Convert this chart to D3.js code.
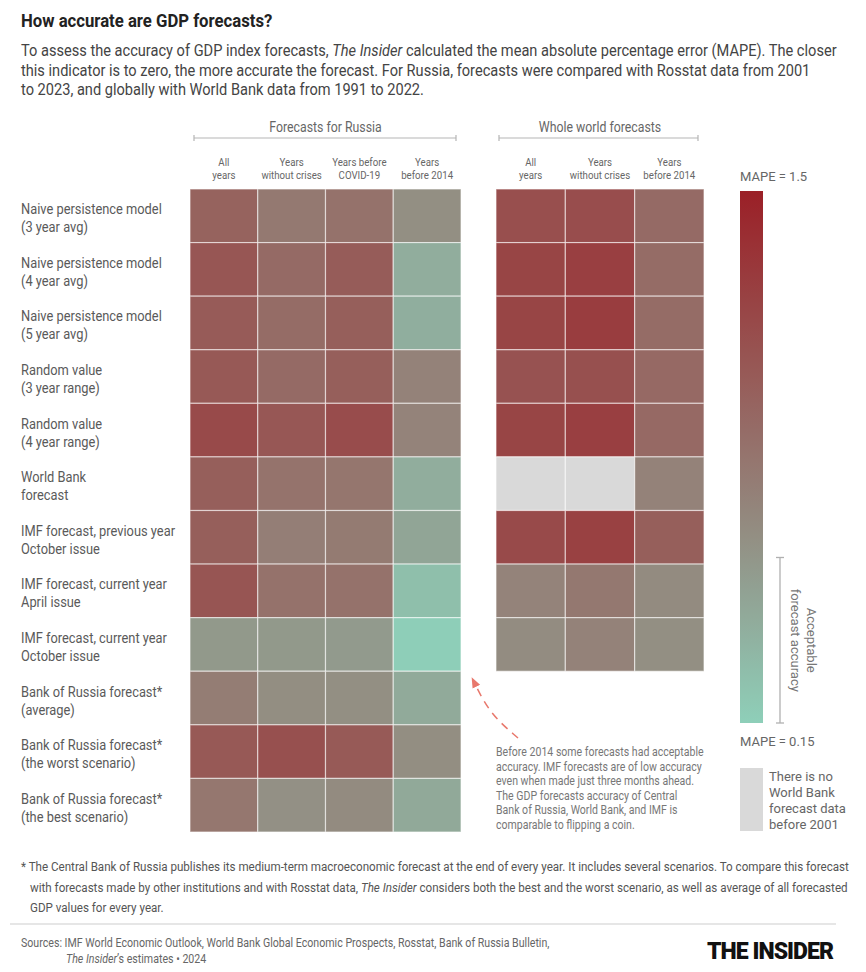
<!DOCTYPE html>
<html><head><meta charset="utf-8">
<script src="https://cdn.jsdelivr.net/npm/d3@7/dist/d3.min.js"></script>
<style>html,body{margin:0;padding:0;background:#fff}svg{display:block;font-family:Roboto,"Noto Sans",sans-serif}</style>
</head><body>
<svg id="c" width="866" height="972"></svg>
<script>
// ---------- DATA ----------
const rowLabels = [
  ["Naive persistence model","(3 year avg)"],
  ["Naive persistence model","(4 year avg)"],
  ["Naive persistence model","(5 year avg)"],
  ["Random value","(3 year range)"],
  ["Random value","(4 year range)"],
  ["World Bank","forecast"],
  ["IMF forecast, previous year","October issue"],
  ["IMF forecast, current year","April issue"],
  ["IMF forecast, current year","October issue"],
  ["Bank of Russia forecast*","(average)"],
  ["Bank of Russia forecast*","(the worst scenario)"],
  ["Bank of Russia forecast*","(the best scenario)"]
];
const russiaCols = [["All","years"],["Years","without crises"],["Years before","COVID-19"],["Years","before 2014"]];
const worldCols = [["All","years"],["Years","without crises"],["Years","before 2014"]];
// MAPE values, Russia (rows x 4 columns)
const russiaValues = [
  [0.97, 0.79, 0.85, 0.62],
  [1.07, 0.91, 1.02, 0.40],
  [1.03, 0.90, 1.00, 0.39],
  [1.05, 0.91, 1.00, 0.72],
  [1.17, 1.06, 1.15, 0.71],
  [1.00, 0.84, 0.82, 0.40],
  [1.00, 0.75, 0.78, 0.46],
  [1.08, 0.85, 0.85, 0.27],
  [0.55, 0.55, 0.54, 0.16],
  [0.76, 0.63, 0.62, 0.42],
  [1.05, 1.12, 1.04, 0.63],
  [0.81, 0.61, 0.65, 0.43]
];
// MAPE values, whole world (first 9 rows x 3 columns); null = no data
const worldValues = [
  [1.13, 1.14, 0.91],
  [1.21, 1.25, 0.90],
  [1.21, 1.27, 0.90],
  [1.10, 1.12, 0.92],
  [1.21, 1.25, 0.92],
  [null, null, 0.72],
  [1.17, 1.24, 1.00],
  [0.71, 0.80, 0.65],
  [0.64, 0.72, 0.62]
];
const mapeMin = 0.15, mapeMax = 1.5, acceptableMax = 0.57;

// ---------- HELPERS ----------
const svg = d3.select("#c");
const COND = 0.88;
function T(x, y, parts, o = {}) {
  const c = o.c ?? COND;
  const t = svg.append("text")
    .attr("transform", `translate(${x},${y}) scale(${c},1)`)
    .attr("font-size", o.size || 13)
    .attr("font-weight", o.w || 400)
    .attr("fill", o.fill || "#555")
    .attr("text-anchor", o.a || "start");
  if (typeof parts === "string") parts = [[parts, false]];
  parts.forEach(([s, it]) => t.append("tspan").attr("font-style", it ? "italic" : "normal").text(s));
  return t;
}

// ---------- HEADER ----------
T(21, 27, "How accurate are GDP forecasts?", {size: 19, w: 700, fill: "#222"});
const subFill = "#444";
T(21, 56, [["To assess the accuracy of GDP index forecasts, ", false], ["The Insider", true], [" calculated the mean absolute percentage error (MAPE). The closer", false]], {size: 16.6, fill: subFill});
T(21, 76, "this indicator is to zero, the more accurate the forecast. For Russia, forecasts were compared with Rosstat data from 2001", {size: 16.6, fill: subFill});
T(21, 95, "to 2023, and globally with World Bank data from 1991 to 2022.", {size: 16.6, fill: subFill});

// ---------- SCALES ----------
const y = d3.scaleBand().domain(d3.range(rowLabels.length)).range([189, 832]);
const xR = d3.scaleBand().domain(d3.range(russiaCols.length)).range([190, 461]);
const xW = d3.scaleBand().domain(d3.range(worldCols.length)).range([496, 704]);
const color = d3.scaleLinear().domain([mapeMin, 0.65, mapeMax])
  .range(["#8ecfb9", "#938b80", "#9b2027"]).interpolate(d3.interpolateRgb).clamp(true);

// ---------- GROUP HEADERS ----------
function bracket(x0, x1, yy) {
  const g = svg.append("g").attr("stroke", "#b5b5b5").attr("stroke-width", 1.2);
  g.append("line").attr("x1", x0).attr("x2", x1).attr("y1", yy).attr("y2", yy);
  g.append("line").attr("x1", x0).attr("x2", x0).attr("y1", yy - 3).attr("y2", yy + 3);
  g.append("line").attr("x1", x1).attr("x2", x1).attr("y1", yy - 3).attr("y2", yy + 3);
}
T((190 + 461) / 2, 132, "Forecasts for Russia", {size: 14, fill: "#666", a: "middle"});
bracket(194, 456, 138);
T(600, 132, "Whole world forecasts", {size: 14, fill: "#666", a: "middle"});
bracket(499, 698, 138);

russiaCols.forEach((c, i) => {
  const cx = xR(i) + xR.bandwidth() / 2;
  T(cx, 166, c[0], {size: 11, fill: "#666", a: "middle"});
  T(cx, 179, c[1], {size: 11, fill: "#666", a: "middle"});
});
worldCols.forEach((c, i) => {
  const cx = xW(i) + xW.bandwidth() / 2;
  T(cx, 166, c[0], {size: 11, fill: "#666", a: "middle"});
  T(cx, 179, c[1], {size: 11, fill: "#666", a: "middle"});
});

// ---------- ROW LABELS ----------
rowLabels.forEach((l, i) => {
  const cy = y(i) + y.bandwidth() / 2;
  T(21, cy - 1.5, l[0], {size: 14.6, fill: "#5a5a5a"});
  T(21, cy + 16.5, l[1], {size: 14.6, fill: "#5a5a5a"});
});

// ---------- CELLS ----------
const rCells = russiaValues.flatMap((r, i) => r.map((v, j) => ({i, j, v})));
svg.append("g").selectAll("rect").data(rCells).join("rect")
  .attr("x", d => xR(d.j)).attr("y", d => y(d.i))
  .attr("width", xR.bandwidth()).attr("height", y.bandwidth())
  .attr("fill", d => color(d.v))
  .attr("stroke", "#fff").attr("stroke-opacity", 0.55).attr("stroke-width", 1.2);
const wCells = worldValues.flatMap((r, i) => r.map((v, j) => ({i, j, v})));
svg.append("g").selectAll("rect").data(wCells).join("rect")
  .attr("x", d => xW(d.j)).attr("y", d => y(d.i))
  .attr("width", xW.bandwidth()).attr("height", y.bandwidth())
  .attr("fill", d => d.v == null ? "#d9d9d9" : color(d.v))
  .attr("stroke", "#fff").attr("stroke-opacity", 0.55).attr("stroke-width", 1.2);

// ---------- COLOR LEGEND ----------
const ly = d3.scaleLinear().domain([mapeMin, mapeMax]).range([723, 191]);
const defs = svg.append("defs");
const grad = defs.append("linearGradient").attr("id", "g").attr("x1", 0).attr("x2", 0).attr("y1", 1).attr("y2", 0);
d3.range(0, 1.0001, 0.05).forEach(t => {
  grad.append("stop").attr("offset", t).attr("stop-color", color(mapeMin + t * (mapeMax - mapeMin)));
});
svg.append("rect").attr("x", 740).attr("y", ly(mapeMax)).attr("width", 23)
  .attr("height", ly(mapeMin) - ly(mapeMax)).attr("fill", "url(#g)");
T(740, 181, "MAPE = 1.5", {size: 13, fill: "#666", c: 1});
T(740, 746, "MAPE = 0.15", {size: 13, fill: "#666", c: 1});
// acceptable bracket
{
  const g = svg.append("g").attr("stroke", "#b0b0b0").attr("stroke-width", 1.3);
  const y0 = ly(acceptableMax), y1 = ly(mapeMin);
  g.append("line").attr("x1", 780).attr("x2", 780).attr("y1", y0).attr("y2", y1);
  g.append("line").attr("x1", 776).attr("x2", 784).attr("y1", y0).attr("y2", y0);
  g.append("line").attr("x1", 776).attr("x2", 784).attr("y1", y1).attr("y2", y1);
  const cy = (y0 + y1) / 2;
  svg.append("text").attr("transform", `translate(807,${cy}) rotate(90)`).attr("text-anchor", "middle")
    .attr("font-size", 13).attr("fill", "#777").text("Acceptable");
  svg.append("text").attr("transform", `translate(791,${cy}) rotate(90)`).attr("text-anchor", "middle")
    .attr("font-size", 13).attr("fill", "#777").text("forecast accuracy");
}
// no data legend
svg.append("rect").attr("x", 740).attr("y", 768).attr("width", 23).attr("height", 63).attr("fill", "#d9d9d9");
["There is no", "World Bank", "forecast data", "before 2001"].forEach((s, i) =>
  T(769, 781 + i * 16, s, {size: 13, fill: "#666", c: 1}));

// ---------- ANNOTATION ----------
defs.append("marker").attr("id", "ah").attr("viewBox", "0 0 10 10").attr("refX", 5).attr("refY", 5)
  .attr("markerWidth", 7).attr("markerHeight", 7).attr("orient", "auto-start-reverse")
  .append("path").attr("d", "M0,1 L10,5 L0,9 z").attr("fill", "#e8786c");
const arrowPts = [[518, 738], [490, 714], [474, 682]];
svg.append("path").attr("d", d3.line().curve(d3.curveBasis)(arrowPts))
  .attr("fill", "none").attr("stroke", "#e8786c").attr("stroke-width", 1.5)
  .attr("stroke-dasharray", "8,6").attr("marker-end", "url(#ah)");
["Before 2014 some forecasts had acceptable",
 "accuracy. IMF forecasts are of low accuracy",
 "even when made just three months ahead.",
 "The GDP forecasts accuracy of Central",
 "Bank of Russia, World Bank, and IMF is",
 "comparable to flipping a coin."].forEach((s, i) =>
  T(496, 756 + i * 14.5, s, {size: 12, fill: "#777"}));

// ---------- FOOTNOTE ----------
T(21, 871, "* The Central Bank of Russia publishes its medium-term macroeconomic forecast at the end of every year. It includes several scenarios. To compare this forecast", {size: 13.2, fill: "#555"});
T(30, 892, [["with forecasts made by other institutions and with Rosstat data, ", false], ["The Insider", true], [" considers both the best and the worst scenario, as well as average of all forecasted", false]], {size: 13.2, fill: "#555"});
T(30, 912, "GDP values for every year.", {size: 13.2, fill: "#555"});
svg.append("line").attr("x1", 10).attr("x2", 836).attr("y1", 924).attr("y2", 924)
  .attr("stroke", "#e6e6e6").attr("stroke-width", 2);
T(21, 947, "Sources: IMF World Economic Outlook, World Bank Global Economic Prospects, Rosstat, Bank of Russia Bulletin,", {size: 12.1, fill: "#666"});
T(66, 963, [["The Insider", true], ["’s estimates • 2024", false]], {size: 12.1, fill: "#666"});
svg.append("text").attr("x", 707).attr("y", 959).attr("font-size", 24).attr("font-weight", 900)
  .attr("fill", "#111").attr("textLength", 126).attr("lengthAdjust", "spacingAndGlyphs")
  .attr("letter-spacing", -1).text("THE INSIDER");
</script>
</body></html>
